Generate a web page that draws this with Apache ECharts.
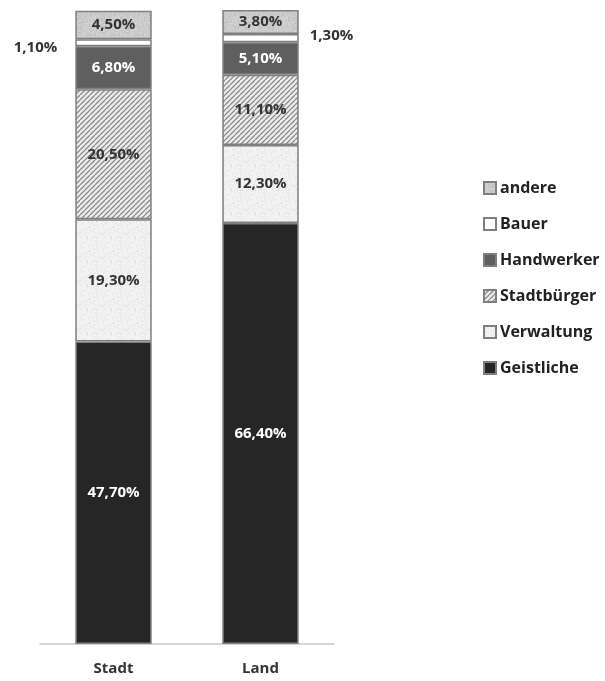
<!DOCTYPE html>
<html><head><meta charset="utf-8">
<script src="https://cdn.jsdelivr.net/npm/echarts@6/dist/echarts.min.js"></script>
<style>html,body{margin:0;padding:0;background:#fff}#c{width:605px;height:681px}</style>
</head><body><div id="c"></div>
<script>
const categories = ['Stadt', 'Land'];
const seriesNames = ['Geistliche', 'Verwaltung', 'Stadtbürger', 'Handwerker', 'Bauer', 'andere'];
const geistliche = [47.7, 66.4];
const verwaltung = [19.3, 12.3];
const stadtbuerger = [20.5, 11.1];
const handwerker = [6.8, 5.1];
const bauer = [1.1, 1.3];
const andere = [4.5, 3.8];
const values = [geistliche, verwaltung, stadtbuerger, handwerker, bauer, andere];

function seeded(s){return function(){s=(s*16807)%2147483647;return (s-1)/2147483646;};}
function speckle(base, dots, seed){
  const c=document.createElement('canvas');c.width=c.height=24;
  const x=c.getContext('2d');x.fillStyle=base;x.fillRect(0,0,24,24);
  const r=seeded(seed);
  for(let i=0;i<110;i++){x.fillStyle=dots[i%dots.length];x.fillRect(Math.floor(r()*24),Math.floor(r()*24),1,1);}
  return {image:c,repeat:'repeat'};
}
function hatch(){
  const s=5;const c=document.createElement('canvas');c.width=c.height=s;
  const x=c.getContext('2d');x.fillStyle='#ececec';x.fillRect(0,0,s,s);
  x.strokeStyle='#8a8a8a';x.lineWidth=1.3;
  x.beginPath();
  for(let k=-1;k<=1;k++){x.moveTo(k*s,s);x.lineTo(k*s+s,0);}
  x.stroke();
  return {image:c,repeat:'repeat'};
}
const fills = [
  '#262626',
  speckle('#f1f1f1',['#dcdcdc','#e4e4e4','#fafafa'],7),
  hatch(),
  '#5f5f5f',
  '#ffffff',
  speckle('#cbcbcb',['#b8b8b8','#d8d8d8'],13)
];
const labelColors=['#ffffff','#333333','#333333','#ffffff','#333333','#333333'];
function fmt(v){return v.toFixed(2).replace('.',',')+'%';}
const FONT='Open Sans';

const series = seriesNames.map((n,i)=>({
  name:n,type:'bar',stack:'a',barWidth:'52%',
  itemStyle:{color:fills[i],borderColor:'#7f7f7f',borderWidth:1.5},
  label:{show:true,position:'inside',color:labelColors[i],fontFamily:FONT,fontWeight:'bold',fontSize:15,
    formatter:p=>fmt(p.value)},
  data: values[i].map((v,j)=>{
    if(n==='Bauer'){
      return {value:v,label:{show:true,position:j===0?'left':'right',distance:j===0?18:11,offset:j===0?[0,5]:[0,-2],color:'#333333'}};
    }
    return v;
  })
}));

const chart=echarts.init(document.getElementById('c'),null,{renderer:'canvas'});
chart.setOption({
  animation:false,
  grid:{left:40,right:271,top:10,bottom:37},
  xAxis:{type:'category',data:categories,axisTick:{show:false},
    axisLine:{lineStyle:{color:'#c8c8c8',width:1.5}},
    axisLabel:{fontFamily:FONT,fontWeight:'bold',fontSize:15,color:'#333',margin:17}},
  yAxis:{type:'value',min:0,max:100,show:false,splitLine:{show:false}},
  legend:{orient:'vertical',left:483,top:180,padding:0,itemGap:20,itemWidth:12,itemHeight:12,icon:'rect',
    data:seriesNames.slice().reverse(),
    textStyle:{fontFamily:FONT,fontWeight:'bold',fontSize:16,color:'#222',padding:[0,0,0,-1]}},
  series:series
});
</script></body></html>
